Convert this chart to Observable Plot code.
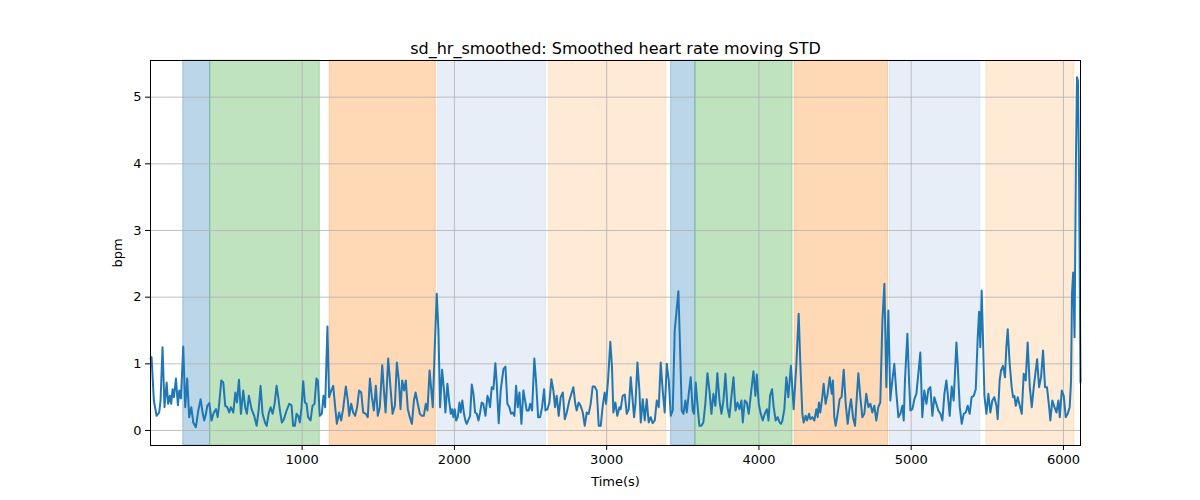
<!DOCTYPE html>
<html>
<head>
<meta charset="utf-8">
<script src="https://cdn.jsdelivr.net/npm/d3@7"></script>
<script src="https://cdn.jsdelivr.net/npm/@observablehq/plot@0.6"></script>
<style>
  html, body { margin: 0; padding: 0; background: #fff; }
  #chart { width: 1200px; height: 500px; }
</style>
</head>
<body>
<div id="chart"></div>
<script>
const title = "sd_hr_smoothed: Smoothed heart rate moving STD";
const xLabel = "Time(s)";
const yLabel = "bpm";
const xTicks = [1000, 2000, 3000, 4000, 5000, 6000];
const yTicks = [0, 1, 2, 3, 4, 5];

const bandStart = [219, 396, 1181, 1893, 2621, 3423, 3583, 4235, 4859, 5494];
const bandEnd   = [396, 1116, 1878, 2602, 3390, 3583, 4221, 4848, 5454, 6072];
const bandPhase = ["p1", "p2", "p3", "p4", "p5", "p1", "p2", "p3", "p4", "p5"];
const phaseNames = ["p1", "p2", "p3", "p4", "p5"];
const phaseColors = ["#1f77b4", "#2ca02c", "#ff7f0e", "#aec7e8", "#ffbb78"];

const times = [4,11,26,44,61,70,83,96,110,120,131,140,149,158,171,184,193,204,219,232,245,258,272,285,302,318,333,346,357,368,377,390,405,420,434,445,453,469,482,495,508,521,532,548,561,572,585,598,613,626,637,650,668,685,701,714,727,740,756,767,780,793,806,819,832,843,854,867,880,898,
915,930,941,952,963,974,985,996,1007,1018,1029,1039,1055,1068,1081,1094,1103,1116,1129,1140,1151,1166,1177,1191,1204,1217,1228,1243,1256,1269,1287,1300,1309,1322,1335,1348,1361,1374,1388,1401,1418,1431,1445,1458,1471,1484,1497,1510,1526,1537,1548,1565,1580,1594,1609,1622,1635,1646,1657,1670,1681,1694,1707,1721,1734,1745,1758,1773,1786,1799,1812,1823,1837,
1858,1871,1884,1895,1906,1919,1932,1941,1954,1965,1976,1985,1993,2002,2011,2022,2033,2041,2052,2063,2072,2081,2094,2103,2114,2125,2136,2147,2158,2169,2179,2190,2204,2217,2225,2234,2245,2256,2269,2278,2291,2304,2322,2335,2348,2361,2372,2383,2394,2405,2416,2427,2440,2453,2464,2475,2488,2497,2510,2525,2536,2550,2563,2576,2589,2598,2611,2624,2637,2650,2661,2672,2685,2698,2712,2725,2738,2755,
2781,2794,2803,2816,2829,2843,2856,2869,2882,2895,2908,2921,2935,2948,2961,2974,2987,2996,3009,3024,3035,3044,3057,3070,3084,3092,3105,3119,3132,3145,3158,3167,3180,3189,3202,3215,3224,3237,3250,3263,3276,3289,3302,3316,3329,3342,3355,3368,3381,3395,3408,3421,3434,3447,3471,3482,3493,3504,3517,3526,3539,3552,3565,3574,3585,3596,3609,3622,3635,3648,3662,3675,3688,3701,3714,3727,3741,3754,3767,3780,3793,3806,3819,3833,3846,3859,3872,3885,3894,3907,3920,3933,3946,3964,3977,3986,3999,4012,4025,4038,4052,4063,4073,
4086,4097,4110,4123,4136,4145,4154,4167,4180,4193,4202,4210,4219,4228,4246,4261,4272,4285,4294,4307,4316,4329,4338,4351,4364,4377,4386,4394,4403,4416,4425,4438,4451,4465,4478,4486,4495,4504,4517,4530,4543,4557,4570,4583,4596,4605,4618,4631,4640,4653,4666,4679,4692,4705,4719,4732,4745,4758,4771,4784,4797,4811,4824,4837,4850,4863,4876,4889,4903,4916,4929,4942,4951,4959,4975,4986,4995,5008,5021,5034,5047,5060,5073,5086,5100,5113,5126,5139,5152,5165,5178,5192,5205,5218,5231,5240,5253,5266,5279,5297,5305,5319,5332,5345,5358,5371,5384,5397,5411,5424,5437,5446,5454,5463,5472,5481,5494,5507,5520,5533,5546,5560,5568,5581,5590,5603,5616,5625,5634,5647,5660,5669,5678,5687,5700,5713,5726,5739,5752,5765,5779,5792,5805,5818,5827,5840,5853,5866,5879,5892,5906,5914,5927,5941,5954,5967,5976,5989,6002,6015,6028,6041,6050,6056,6064,6073,6082,6089,6095,6102,6112];

const values = [1.08,1.10,0.45,0.22,0.27,0.45,1.25,0.35,0.72,0.40,0.52,0.40,0.62,0.50,0.78,0.38,0.60,0.48,1.26,0.35,0.78,0.20,0.35,0.12,0.05,0.30,0.47,0.27,0.15,0.25,0.37,0.41,0.15,0.27,0.32,0.20,0.35,0.75,0.72,0.37,0.35,0.27,0.35,0.27,0.57,0.42,0.76,0.25,0.60,0.35,0.25,0.52,0.32,0.22,0.07,0.30,0.67,0.25,0.12,0.07,0.25,0.35,0.25,0.40,0.67,0.50,0.30,0.12,0.17,0.30,
0.40,0.38,0.07,0.07,0.25,0.22,0.12,0.35,0.74,0.42,0.40,0.20,0.15,0.37,0.40,0.78,0.75,0.22,0.25,0.52,0.35,1.56,0.50,0.60,0.67,0.35,0.10,0.27,0.15,0.32,0.66,0.45,0.22,0.40,0.27,0.22,0.35,0.60,0.57,0.27,0.25,0.20,0.78,0.50,0.30,0.67,0.22,0.35,0.98,0.60,0.27,1.08,0.65,0.25,0.37,1.02,0.75,0.32,0.75,0.60,0.75,0.32,0.20,0.10,0.45,0.57,0.42,0.25,0.22,0.22,0.40,0.30,0.90,
0.35,1.25,2.05,1.50,0.35,0.91,0.60,0.27,0.70,0.45,0.25,0.32,0.20,0.32,0.15,0.20,0.42,0.27,0.45,0.25,0.15,0.10,0.17,0.22,0.69,0.55,0.27,0.25,0.15,0.27,0.42,0.40,0.22,0.52,0.47,0.35,0.65,0.62,1.01,0.70,0.11,0.60,0.92,0.96,0.40,0.35,0.25,0.27,0.22,0.67,0.35,0.57,0.10,0.60,0.45,0.30,0.30,0.40,0.30,1.08,0.75,0.20,0.20,0.35,0.62,0.30,0.32,0.42,0.77,0.60,0.35,0.52,0.22,0.50,0.57,0.17,0.27,0.45,
0.65,0.40,0.30,0.42,0.37,0.27,0.07,0.27,0.25,0.40,0.66,0.66,0.60,0.07,0.07,0.37,0.57,0.40,0.75,1.33,0.95,0.27,0.42,0.22,0.35,0.32,0.52,0.54,0.25,0.32,0.80,0.55,0.20,0.40,1.02,0.60,0.12,0.47,0.15,0.47,0.12,0.20,0.11,0.15,0.45,0.35,1.02,0.60,0.27,1.00,0.75,0.22,0.30,1.50,2.09,1.25,0.30,0.25,0.45,0.27,0.55,0.80,0.30,0.25,0.72,0.40,0.07,0.07,0.12,0.40,0.86,0.60,0.25,0.55,0.37,0.86,0.45,0.25,0.45,0.85,0.35,0.20,0.50,0.80,0.30,0.42,0.32,0.45,0.12,0.45,0.42,0.25,0.52,0.89,0.52,0.84,0.40,0.25,0.15,0.25,0.32,0.15,0.52,
0.62,0.35,0.15,0.20,0.12,0.10,0.15,0.32,0.80,0.50,0.75,0.97,0.65,0.32,1.00,1.75,1.00,0.25,0.12,0.22,0.15,0.25,0.17,0.20,0.15,0.32,0.20,0.42,0.27,0.50,0.70,0.40,0.55,0.80,0.55,0.75,0.20,0.07,0.25,0.47,0.50,0.91,0.40,0.10,0.35,0.47,0.20,0.07,0.40,0.86,0.50,0.20,0.25,0.55,0.35,0.40,0.27,0.37,0.15,0.35,0.42,1.65,2.20,0.65,1.80,0.45,0.75,1.00,0.55,0.20,0.25,0.37,0.15,0.75,1.45,0.75,0.30,0.32,0.47,0.55,0.85,1.17,0.20,0.60,0.40,0.62,0.65,0.22,0.50,0.40,0.30,0.25,0.15,0.55,0.75,0.55,0.22,0.66,0.45,1.32,1.00,0.35,0.10,0.25,0.27,0.37,0.25,0.50,0.52,0.62,1.40,1.78,1.25,2.10,1.35,0.52,0.25,0.55,0.27,0.45,0.50,0.37,0.17,0.75,0.90,0.97,0.80,1.25,1.52,1.00,0.65,0.50,0.52,0.37,0.50,0.37,0.25,0.85,0.75,1.32,0.65,0.35,0.65,0.90,1.07,0.65,0.80,1.20,0.65,0.65,0.35,0.15,0.45,0.35,0.27,0.45,0.20,0.60,0.52,0.20,0.25,0.35,0.75,2.05,2.37,1.40,4.05,5.30,5.25,3.90,0.72];

const series = times.map((t, i) => ({t, v: values[i]}));
const bands = bandStart.map((s, i) => ({s, e: bandEnd[i], phase: bandPhase[i]}));

const chart = Plot.plot({
  width: 1200,
  height: 500,
  marginLeft: 150,
  marginRight: 120,
  marginTop: 60,
  marginBottom: 55,
  style: {fontFamily: "DejaVu Sans", fontSize: "13px", color: "#000", background: "#fff", overflow: "visible"},
  x: {domain: [4, 6112]},
  y: {domain: [-0.225, 5.55]},
  color: {domain: phaseNames, range: phaseColors},
  marks: [
    Plot.rectX(bands, {x1: "s", x2: "e", y1: -0.225, y2: 5.55, fill: "phase", fillOpacity: 0.3, stroke: "phase", strokeOpacity: 0.3, strokeWidth: 1}),
    Plot.gridX(xTicks, {stroke: "#b0b0b0", strokeOpacity: 1, strokeWidth: 0.8}),
    Plot.gridY(yTicks, {stroke: "#b0b0b0", strokeOpacity: 1, strokeWidth: 0.8}),
    Plot.line(series, {x: "t", y: "v", stroke: "#1f77b4", strokeWidth: 2, curve: "linear"}),
    Plot.frame({stroke: "#000", strokeWidth: 1}),
    Plot.axisX(xTicks, {tickSize: 5, tickPadding: 4, fontSize: 13, tickFormat: d => String(d), label: xLabel, labelAnchor: "center", labelArrow: "none", labelOffset: 40}),
    Plot.axisY(yTicks, {tickSize: 5, tickPadding: 4, fontSize: 13, tickFormat: d => String(d), label: yLabel, labelAnchor: "center", labelArrow: "none", labelOffset: 38}),
    Plot.text([title], {frameAnchor: "top", dy: -18, fontSize: 16, fill: "#000"})
  ]
});
document.getElementById("chart").appendChild(chart);
</script>
</body>
</html>
